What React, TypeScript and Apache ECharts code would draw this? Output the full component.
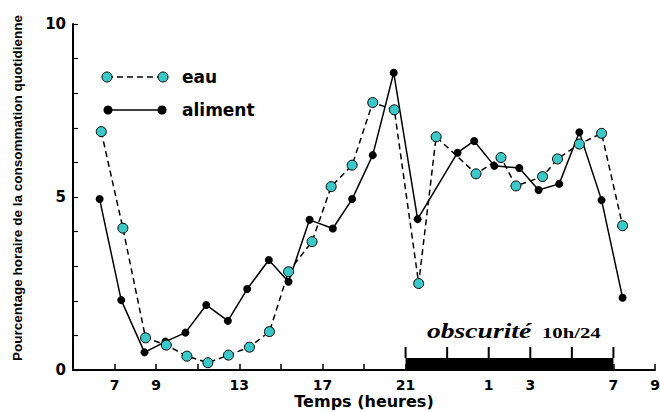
import React, { useEffect, useRef } from 'react';
import * as echarts from 'echarts';

// Hours (continuous: 25 = 1h next day) and hourly consumption (%)
const eauHours = [6.36, 7.4, 8.49, 9.49, 10.48, 11.49, 12.48, 13.49, 14.45, 15.37, 16.5, 17.42, 18.43, 19.42, 20.46, 21.63, 22.47, 24.39, 25.59, 26.31, 27.59, 28.31, 29.36, 30.43, 31.44];
const eauValues = [6.89, 4.1, 0.93, 0.72, 0.4, 0.21, 0.43, 0.66, 1.11, 2.84, 3.71, 5.3, 5.92, 7.73, 7.52, 2.5, 6.74, 5.67, 6.14, 5.32, 5.59, 6.1, 6.53, 6.84, 4.17];

const alimHours = [6.28, 7.32, 8.44, 9.45, 10.41, 11.41, 12.45, 13.38, 14.42, 15.37, 16.38, 17.5, 18.43, 19.42, 20.43, 21.58, 23.5, 24.3, 25.27, 26.47, 27.4, 28.39, 29.36, 30.43, 31.44];
const alimValues = [4.94, 2.02, 0.51, 0.82, 1.08, 1.88, 1.42, 2.34, 3.18, 2.55, 4.34, 4.09, 4.94, 6.21, 8.59, 4.36, 6.28, 6.62, 5.9, 5.84, 5.2, 5.38, 6.87, 4.91, 2.09];

const xTickLabels = [7, 9, 13, 17, 21, 25, 27, 31, 33];
const yTickLabels = [0, 5, 10];

const darkStart = 21;
const darkEnd = 31;
const darkTicks = [21, 23, 25, 27, 29, 31];

const seriesNames = ['eau', 'aliment'];
const yAxisTitle = 'Pourcentage horaire de la consommation quotidienne';
const xAxisTitle = 'Temps (heures)';
const darkLabel = 'obscurité';
const darkLabel2 = '10h/24';

const CYAN = '#3cc8c8';
const NUM_FONT = '"DejaVu Sans", sans-serif';

export default function App() {
  const ref = useRef<HTMLDivElement>(null);

  useEffect(() => {
    if (!ref.current) return;
    const chart = echarts.init(ref.current, null, { renderer: 'svg' });

    const option: any = {
      animation: false,
      backgroundColor: '#ffffff',
      grid: { left: 73, right: 5, top: 24, bottom: 42, containLabel: false, outerBoundsMode: 'none' },
      xAxis: {
        type: 'value',
        min: 5,
        max: 33,
        interval: 2,
        axisLine: { show: true, onZero: false, lineStyle: { color: '#000', width: 2 } },
        axisTick: { show: true, inside: true, length: 6, lineStyle: { color: '#000', width: 1.5 } },
        axisLabel: {
          show: true,
          showMinLabel: true,
          showMaxLabel: true,
          margin: 8,
          color: '#000',
          fontFamily: NUM_FONT,
          fontWeight: 'bold',
          fontSize: 14,
          formatter: (v: number) => (xTickLabels.includes(v) ? String(v > 24 ? v - 24 : v) : ''),
        },
        splitLine: { show: false },
      },
      yAxis: {
        type: 'value',
        min: 0,
        max: 10,
        interval: 1,
        axisLine: { show: true, lineStyle: { color: '#000', width: 2 } },
        axisTick: { show: true, inside: true, length: 5, lineStyle: { color: '#000', width: 1.2 } },
        axisLabel: {
          show: true,
          margin: 7,
          color: '#000',
          fontFamily: NUM_FONT,
          fontWeight: 'bold',
          fontSize: 15,
          formatter: (v: number) => (yTickLabels.includes(v) ? String(v) : ''),
        },
        splitLine: { show: false },
      },
      series: [
        {
          name: seriesNames[1],
          type: 'line',
          data: alimHours.map((h, i) => [h, alimValues[i]]),
          symbol: 'circle',
          symbolSize: 8,
          itemStyle: { color: '#000' },
          lineStyle: { color: '#000', width: 1.5 },
          z: 3,
        },
        {
          name: seriesNames[0],
          type: 'line',
          data: eauHours.map((h, i) => [h, eauValues[i]]),
          symbol: 'circle',
          symbolSize: 10,
          itemStyle: { color: CYAN, borderColor: '#000', borderWidth: 1 },
          lineStyle: { color: '#000', width: 1.5, type: [6, 4] },
          z: 4,
        },
        {
          type: 'custom',
          silent: true,
          z: 6,
          data: [[darkStart, darkEnd]],
          renderItem: (params: any, api: any) => {
            const s = api.coord([api.value(0), 0]);
            const e = api.coord([api.value(1), 0]);
            const barH = 12;
            const tickH = 11;
            const children: any[] = [
              {
                type: 'rect',
                shape: { x: s[0], y: s[1] - barH, width: e[0] - s[0], height: barH },
                style: { fill: '#000' },
              },
            ];
            darkTicks.forEach((t) => {
              const p = api.coord([t, 0]);
              children.push({
                type: 'line',
                shape: { x1: p[0], y1: p[1] - barH, x2: p[0], y2: p[1] - barH - tickH },
                style: { stroke: '#000', lineWidth: 2 },
              });
            });
            return { type: 'group', children };
          },
        },
      ],
      graphic: [
        // y axis title
        {
          type: 'text',
          x: 17,
          y: 188,
          rotation: Math.PI / 2,
          style: {
            text: yAxisTitle,
            font: 'bold 13.5px "Liberation Sans", Arial, sans-serif',
            fill: '#000',
            textAlign: 'center',
            textVerticalAlign: 'middle',
          },
        },
        // x axis title
        {
          type: 'text',
          x: 364,
          y: 401,
          style: {
            text: xAxisTitle,
            font: 'bold 16px "DejaVu Sans", sans-serif',
            fill: '#000',
            textAlign: 'center',
            textVerticalAlign: 'middle',
          },
        },
        // legend: eau
        { type: 'line', shape: { x1: 107, y1: 77, x2: 163, y2: 77 }, style: { stroke: '#000', lineWidth: 1.5, lineDash: [6, 4] } },
        { type: 'circle', shape: { cx: 107, cy: 77, r: 5 }, style: { fill: CYAN, stroke: '#000', lineWidth: 1 } },
        { type: 'circle', shape: { cx: 163, cy: 77, r: 5 }, style: { fill: CYAN, stroke: '#000', lineWidth: 1 } },
        {
          type: 'text',
          x: 182,
          y: 77,
          style: { text: seriesNames[0], font: 'bold 17px "DejaVu Sans", sans-serif', fill: '#000', textVerticalAlign: 'middle' },
        },
        // legend: aliment
        { type: 'line', shape: { x1: 108, y1: 110, x2: 162, y2: 110 }, style: { stroke: '#000', lineWidth: 1.5 } },
        { type: 'circle', shape: { cx: 108, cy: 110, r: 4.5 }, style: { fill: '#000' } },
        { type: 'circle', shape: { cx: 162, cy: 110, r: 4.5 }, style: { fill: '#000' } },
        {
          type: 'text',
          x: 182,
          y: 110,
          style: { text: seriesNames[1], font: 'bold 17px "DejaVu Sans", sans-serif', fill: '#000', textVerticalAlign: 'middle' },
        },
        // darkness label
        {
          type: 'text',
          x: 427,
          y: 331,
          scaleX: 1.38,
          style: { text: darkLabel, font: 'italic bold 20px "Liberation Serif", serif', fill: '#000', textVerticalAlign: 'middle' },
        },
        {
          type: 'text',
          x: 542,
          y: 333,
          scaleX: 1.38,
          style: { text: darkLabel2, font: 'bold 15px "Liberation Serif", serif', fill: '#000', textVerticalAlign: 'middle' },
        },
      ],
    };

    chart.setOption(option);
    return () => chart.dispose();
  }, []);

  return (
    <div
      ref={ref}
      style={{ position: 'fixed', left: 0, top: 0, width: 660, height: 412, background: '#fff' }}
    />
  );
}
